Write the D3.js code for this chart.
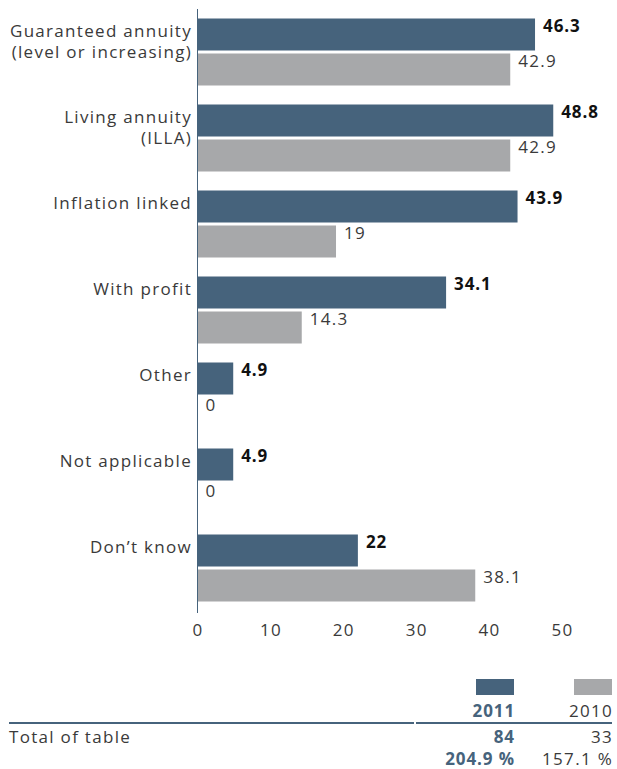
<!DOCTYPE html>
<html>
<head>
<meta charset="utf-8">
<script src="https://cdn.jsdelivr.net/npm/d3@7"></script>
<style>
  html, body { margin: 0; padding: 0; background: #fff; }
  svg { display: block; }
  text { font-family: "Open Sans", "DejaVu Sans", sans-serif; letter-spacing: 1.3px; }
  text.b { letter-spacing: 0.9px; }
</style>
</head>
<body>
<svg id="chart" width="617" height="769"></svg>
<script>
const categories = [
  "Guaranteed annuity\n(level or increasing)",
  "Living annuity\n(ILLA)",
  "Inflation linked",
  "With profit",
  "Other",
  "Not applicable",
  "Don\u2019t know"
];
const values2011 = [46.3, 48.8, 43.9, 34.1, 4.9, 4.9, 22];
const values2010 = [42.9, 42.9, 19, 14.3, 0, 0, 38.1];
const valueLabels2011 = ["46.3", "48.8", "43.9", "34.1", "4.9", "4.9", "22"];
const valueLabels2010 = ["42.9", "42.9", "19", "14.3", "0", "0", "38.1"];
const seriesNames = ["2011", "2010"];
const xTicks = [0, 10, 20, 30, 40, 50];
const totalLabel = "Total of table";
const totalCounts = ["84", "33"];
const totalPercents = ["204.9 %", "157.1 %"];

const colors = { "2011": "#46637c", "2010": "#a7a8aa" };
const txt = "#3a3a3a";
const svg = d3.select("#chart");

const x = d3.scaleLinear().domain([0, 50]).range([197.5, 562]);
const y0 = d3.scaleBand().domain(categories).range([9, 611])
  .paddingInner(19 / 86).paddingOuter(19 / 172);
const y1 = d3.scaleBand().domain(seriesNames).range([0, y0.bandwidth()])
  .paddingInner(3 / 35).paddingOuter(0);

const rows = categories.map((c, i) => ({
  cat: c,
  vals: [
    { s: "2011", v: values2011[i], label: valueLabels2011[i] },
    { s: "2010", v: values2010[i], label: valueLabels2010[i] }
  ]
}));

// bars
const g = svg.append("g");
const grp = g.selectAll("g.grp").data(rows).join("g")
  .attr("class", "grp")
  .attr("transform", d => `translate(0,${y0(d.cat)})`);

grp.selectAll("rect").data(d => d.vals).join("rect")
  .attr("x", x(0))
  .attr("y", d => y1(d.s))
  .attr("width", d => x(d.v) - x(0))
  .attr("height", y1.bandwidth())
  .attr("fill", d => colors[d.s]);

grp.selectAll("text.val").data(d => d.vals).join("text")
  .attr("class", d => d.s === "2011" ? "val b" : "val")
  .attr("x", d => x(d.v) + 8)
  .attr("y", d => y1(d.s) + 13)
  .attr("font-size", 17)
  .attr("font-weight", d => d.s === "2011" ? 700 : 400)
  .attr("fill", d => d.s === "2011" ? "#111" : txt)
  .text(d => d.label);

// category labels
grp.append("text")
  .attr("text-anchor", "end")
  .attr("font-size", 17)
  .attr("font-weight", 400)
  .attr("fill", txt)
  .selectAll("tspan").data(d => d.cat.split("\n")).join("tspan")
  .attr("x", 192)
  .attr("y", (d, i) => y1("2011") + 18 + i * 21.5)
  .text(d => d);

// vertical axis line
const yAxis = d3.axisLeft(y0).tickSize(0).tickSizeOuter(0).tickFormat("");
svg.append("g")
  .attr("transform", `translate(${x(0)},0)`)
  .call(yAxis)
  .call(s => s.select(".domain").attr("stroke", "#46637c").attr("d", "M0,9V613"));

// x axis
const xAxis = d3.axisBottom(x).tickValues(xTicks).tickSize(0).tickPadding(0);
svg.append("g")
  .attr("transform", "translate(0,620)")
  .call(xAxis)
  .call(s => s.select(".domain").remove())
  .call(s => s.selectAll("text")
    .attr("font-size", 17)
    .attr("font-weight", 400)
    .attr("font-family", "'Open Sans', sans-serif")
    .attr("fill", txt)
    .attr("dy", "16px"));

// legend / totals table
const colRight = { "2011": 515, "2010": 613 };
const legend = svg.append("g");
seriesNames.forEach((s, i) => {
  legend.append("rect")
    .attr("x", colRight[s] - 39).attr("y", 679)
    .attr("width", 38).attr("height", 16)
    .attr("fill", colors[s]);
  const bold = s === "2011";
  const fill = bold ? "#46637c" : txt;
  const fw = bold ? 700 : 400;
  const cls = bold ? "b" : null;
  legend.append("text").attr("class", cls).attr("x", colRight[s]).attr("y", 717)
    .attr("text-anchor", "end").attr("font-size", 17)
    .attr("font-weight", fw).attr("fill", fill).text(s);
  legend.append("text").attr("class", cls).attr("x", colRight[s]).attr("y", 743)
    .attr("text-anchor", "end").attr("font-size", 17)
    .attr("font-weight", fw).attr("fill", fill).text(totalCounts[i]);
  legend.append("text").attr("class", cls).attr("x", colRight[s]).attr("y", 765)
    .attr("text-anchor", "end").attr("font-size", 17)
    .attr("font-weight", fw).attr("fill", fill).text(totalPercents[i]);
});
legend.append("line").attr("x1", 9).attr("x2", 414).attr("y1", 723).attr("y2", 723)
  .attr("stroke", "#46637c").attr("stroke-width", 2);
legend.append("line").attr("x1", 416).attr("x2", 612).attr("y1", 723).attr("y2", 723)
  .attr("stroke", "#46637c").attr("stroke-width", 2);
legend.append("text").attr("x", 9).attr("y", 743)
  .attr("font-size", 17).attr("font-weight", 400).attr("fill", txt).text(totalLabel);
</script>
</body>
</html>
